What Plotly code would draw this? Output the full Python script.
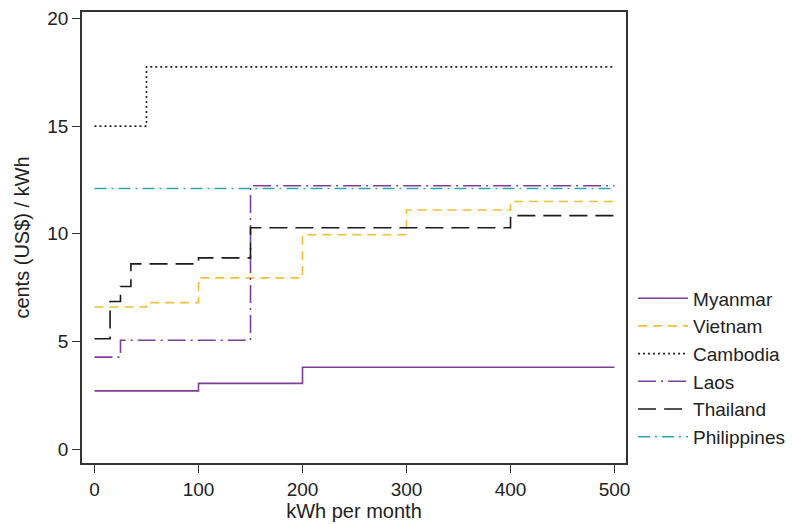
import plotly.graph_objects as go

# Block tariffs: kWh breakpoints (start of each block, last entry = end) and rates (cents US$/kWh)
myanmar_kwh = [0, 100, 200, 500]
myanmar_rate = [2.7, 3.05, 3.8, 3.8]

vietnam_kwh = [0, 50, 100, 200, 300, 400, 500]
vietnam_rate = [6.6, 6.8, 7.95, 9.95, 11.1, 11.5, 11.5]

cambodia_kwh = [0, 50, 500]
cambodia_rate = [15.0, 17.75, 17.75]

laos_kwh = [0, 25, 150, 500]
laos_rate = [4.27, 5.05, 12.23, 12.23]

thailand_kwh = [0, 15, 25, 35, 100, 150, 400, 500]
thailand_rate = [5.12, 6.85, 7.55, 8.6, 8.88, 10.28, 10.84, 10.84]

philippines_kwh = [0, 500]
philippines_rate = [12.1, 12.1]

x_ticks = [0, 100, 200, 300, 400, 500]
y_ticks = [0, 5, 10, 15, 20]

series = [
    ("Myanmar", myanmar_kwh, myanmar_rate, "#7e3f98", "solid"),
    ("Vietnam", vietnam_kwh, vietnam_rate, "#f0bd3c", "9px,6px"),
    ("Cambodia", cambodia_kwh, cambodia_rate, "#222222", "2px,3px"),
    ("Laos", laos_kwh, laos_rate, "#7e3f98", "18px,5px,2px,5px"),
    ("Thailand", thailand_kwh, thailand_rate, "#1a1a1a", "18px,8px"),
    ("Philippines", philippines_kwh, philippines_rate, "#2aa6b8", "12px,5px,2px,5px"),
]

fig = go.Figure()
for name, xs, ys, color, dash in series:
    fig.add_trace(go.Scatter(
        x=xs, y=ys, mode="lines", name=name, line_shape="hv",
        line=dict(color=color, width=1.6, dash=dash),
    ))

axis_common = dict(
    showline=True, linecolor="#333333", linewidth=1.5, mirror=True,
    ticks="outside", ticklen=8, tickcolor="#333333", tickwidth=1.2,
    showgrid=False, zeroline=False, automargin=False,
    tickfont=dict(size=19, color="#222222"),
)

fig.update_layout(
    width=792, height=524,
    margin=dict(l=82, r=166, t=12, b=61, autoexpand=False),
    paper_bgcolor="white", plot_bgcolor="white",
    font=dict(family="Liberation Sans, Arial, sans-serif", color="#222222"),
    xaxis=dict(range=[-12, 511], tickvals=x_ticks,
               title=dict(text="kWh per month", font=dict(size=20), standoff=4),
               **axis_common),
    yaxis=dict(range=[-0.65, 20.3], tickvals=y_ticks,
               title=dict(text="cents (US$) / kWh", font=dict(size=20), standoff=12),
               **axis_common),
    legend=dict(x=1.013, xanchor="left", y=0.211, yanchor="middle",
                font=dict(size=19), tracegroupgap=0, itemwidth=50,
                bgcolor="rgba(0,0,0,0)"),
    showlegend=True,
)

fig.write_html("out.html")
